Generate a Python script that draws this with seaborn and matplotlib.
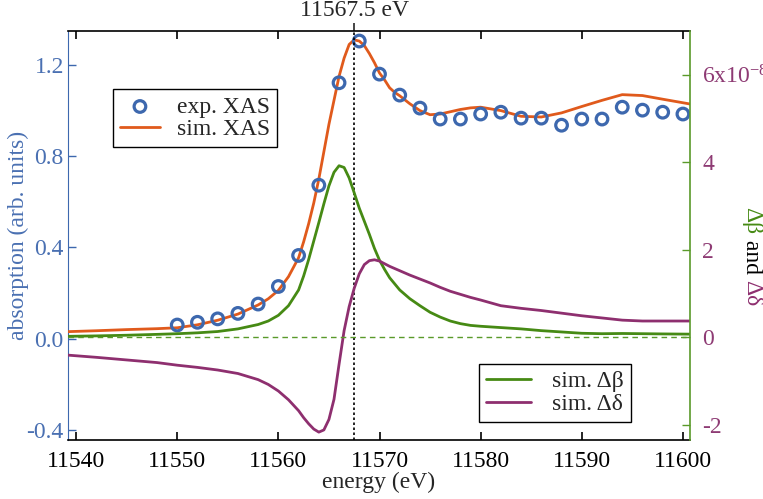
import numpy as np
import pandas as pd
import matplotlib
matplotlib.use("Agg")
import matplotlib.pyplot as plt
import seaborn as sns

# ---------------- data ----------------
exp_energy = [11550, 11552, 11554, 11556, 11558, 11560, 11562, 11564, 11566, 11568,
              11570, 11572, 11574, 11576, 11578, 11580, 11582, 11584, 11586, 11588,
              11590, 11592, 11594, 11596, 11598, 11600]
exp_xas = [0.06, 0.072, 0.087, 0.111, 0.152, 0.229, 0.365, 0.673, 1.122, 1.305,
           1.16, 1.068, 1.011, 0.963, 0.963, 0.985, 0.993, 0.967, 0.967, 0.936,
           0.963, 0.963, 1.015, 1.002, 0.993, 0.985]

sim_energy = [11539.2, 11542, 11545, 11548, 11550, 11552, 11554, 11556, 11558, 11559,
              11560, 11561, 11562, 11562.5, 11563, 11563.5, 11564, 11564.5, 11565, 11565.5,
              11566, 11566.5, 11567, 11567.5, 11568, 11568.5, 11569, 11569.5, 11570, 11570.5,
              11571, 11571.5, 11572, 11573, 11574, 11575, 11576, 11577, 11578, 11579,
              11580, 11582, 11584, 11586, 11588, 11590, 11592, 11594, 11596, 11598, 11600.7]
sim_xas = [0.031, 0.035, 0.040, 0.044, 0.048, 0.061, 0.081, 0.108, 0.148, 0.175,
           0.212, 0.272, 0.355, 0.425, 0.505, 0.595, 0.70, 0.82, 0.94, 1.045,
           1.15, 1.23, 1.29, 1.31, 1.305, 1.285, 1.25, 1.21, 1.165, 1.135,
           1.10, 1.08, 1.065, 1.03, 1.0, 0.982, 0.985, 0.995, 1.005, 1.012,
           1.015, 1.0, 0.975, 0.972, 0.99, 1.018, 1.045, 1.07, 1.066, 1.05, 1.029]
sim_dbeta = [0.02, 0.03, 0.045, 0.065, 0.08, 0.10, 0.13, 0.19, 0.29, 0.37,
             0.50, 0.72, 1.08, 1.40, 1.78, 2.20, 2.62, 3.05, 3.46, 3.77,
             3.92, 3.88, 3.64, 3.30, 2.95, 2.65, 2.35, 2.03, 1.76, 1.55,
             1.36, 1.22, 1.08, 0.88, 0.72, 0.57, 0.46, 0.37, 0.31, 0.27,
             0.25, 0.22, 0.19, 0.15, 0.12, 0.09, 0.08, 0.085, 0.08, 0.075, 0.07]
sim_ddelta = [-0.41, -0.46, -0.52, -0.58, -0.64, -0.69, -0.75, -0.83, -0.97, -1.08,
              -1.23, -1.43, -1.68, -1.84, -1.98, -2.1, -2.17, -2.12, -1.88, -1.42,
              -0.62, 0.15, 0.7, 1.12, 1.45, 1.66, 1.75, 1.77, 1.74, 1.68,
              1.62, 1.57, 1.52, 1.42, 1.33, 1.24, 1.14, 1.05, 0.98, 0.91,
              0.85, 0.72, 0.66, 0.61, 0.55, 0.49, 0.44, 0.39, 0.37, 0.37, 0.37]

x_ticks = [11540, 11550, 11560, 11570, 11580, 11590, 11600]
left_ticks = [-0.4, 0.0, 0.4, 0.8, 1.2]
left_ticklabels = ["-0.4", "0.0", "0.4", "0.8", "1.2"]
right_ticks = [-2, 0, 2, 4, 6]
right_ticklabels = ["-2", "0", "2", "4", "6x10$^{-8}$"]
edge_energy = 11567.5

# ---------------- style ----------------
sns.set_style("ticks")
plt.rcParams["font.family"] = ["Liberation Serif", "DejaVu Serif"]
plt.rcParams["mathtext.fontset"] = "custom"
plt.rcParams["mathtext.rm"] = "Liberation Serif"
plt.rcParams["mathtext.it"] = "Liberation Serif:italic"

FS = 17
BLUE = "#3d68ae"
BLUE_TXT = "#4a70b2"
ORANGE = "#e05a1c"
GREEN = "#468a14"
GREEN_SP = "#5a9a2a"
PURPLE = "#8e2f6f"
PURPLE_TXT = "#8e3b74"

df_exp = pd.DataFrame({"energy": exp_energy, "xas": exp_xas})
df_sim = pd.DataFrame({"energy": sim_energy, "xas": sim_xas,
                       "dbeta": sim_dbeta, "ddelta": sim_ddelta})

fig = plt.figure(figsize=(7.63, 4.99), dpi=100)
ax = fig.add_axes([68/763, 1-440/499, 622/763, 409/499])
ax2 = ax.twinx()

# left axis
sns.scatterplot(data=df_exp, x="energy", y="xas", ax=ax, marker="o", s=70,
                facecolor="none", edgecolor=BLUE, linewidth=2.3, label="exp. XAS", zorder=4)
sns.lineplot(data=df_sim, x="energy", y="xas", ax=ax, color=ORANGE, lw=2.0,
             label="sim. XAS", zorder=3)

# right axis
sns.lineplot(data=df_sim, x="energy", y="dbeta", ax=ax2, color=GREEN, lw=2.0,
             label="sim. Δβ")
sns.lineplot(data=df_sim, x="energy", y="ddelta", ax=ax2, color=PURPLE, lw=2.0,
             label="sim. Δδ")
ax2.axhline(0, color=GREEN_SP, lw=1.0, ls=(0, (4, 3)))
ax.axvline(edge_energy, color="black", lw=1.2, ls=(0, (1.5, 1.5)), zorder=5)

ax.set_xlim(11539.2, 11600.7)
ax.set_ylim(-0.444, 1.349)
ax2.set_ylim(-2.35, 7.0)

ax.set_xticks(x_ticks)
ax.set_xticklabels([str(t) for t in x_ticks])
ax.set_yticks(left_ticks)
ax.set_yticklabels(left_ticklabels)
ax2.set_yticks(right_ticks)
ax2.set_yticklabels(right_ticklabels)

ax.set_xlabel("energy (eV)", fontsize=FS, labelpad=0)
ax.set_ylabel("absorption (arb. units)", fontsize=FS, color=BLUE_TXT)
ax.yaxis.set_label_coords(-0.062, 0.5)
ax2.set_ylabel("")

ax.tick_params(axis="x", direction="in", top=True, length=6, width=1.2,
               labelsize=FS, pad=8, colors="black")
ax.tick_params(axis="y", direction="in", length=6, width=1.0, labelsize=FS,
               pad=3, color=BLUE, labelcolor=BLUE_TXT)
ax2.tick_params(axis="y", direction="in", length=6, width=1.0, labelsize=FS,
                pad=9, color=GREEN_SP, labelcolor=PURPLE_TXT)

for s in ["top", "bottom"]:
    ax.spines[s].set_color("black")
    ax.spines[s].set_linewidth(1.2)
    ax2.spines[s].set_visible(False)
ax.spines["left"].set_color(BLUE)
ax.spines["right"].set_visible(False)
ax2.spines["left"].set_visible(False)
ax2.spines["right"].set_color(GREEN_SP)
ax2.spines["right"].set_linewidth(1.2)

# top label at the edge
sec = ax.secondary_xaxis("top")
sec.set_xticks([edge_energy])
sec.set_xticklabels(["11567.5 eV"])
sec.tick_params(direction="out", length=6, width=1.2, labelsize=FS, pad=1)
sec.spines["top"].set_visible(False)

# legends
h1, l1 = ax.get_legend_handles_labels()
leg1 = ax.legend(h1, l1, loc="upper left", bbox_to_anchor=(0.072, 0.858),
                 borderaxespad=0, fontsize=FS, frameon=True, fancybox=False,
                 edgecolor="black", framealpha=1, labelspacing=0.05,
                 borderpad=0.3, handlelength=1.7, handletextpad=0.7)
leg1.get_frame().set_linewidth(1.0)
h2, l2 = ax2.get_legend_handles_labels()
leg2 = ax2.legend(h2[:2], l2[:2], loc="lower left", bbox_to_anchor=(0.661, 0.044),
                  borderaxespad=0, fontsize=FS, frameon=True, fancybox=False,
                  edgecolor="black", framealpha=1, labelspacing=0.05,
                  borderpad=0.3, handlelength=1.9, handletextpad=0.9)
leg2.get_frame().set_linewidth(1.0)

# right axis label in three colours, read top to bottom
fig.canvas.draw()
renderer = fig.canvas.get_renderer()
y_px = 207
for txt, col in [("Δβ", GREEN), (" and ", "black"), ("Δδ", PURPLE)]:
    t = fig.text(752/763, 1 - y_px/499, txt, rotation=270, color=col, fontsize=FS,
                 ha="center", va="top")
    bb = t.get_window_extent(renderer)
    y_px += bb.height

fig.savefig("out.png", dpi=100)
